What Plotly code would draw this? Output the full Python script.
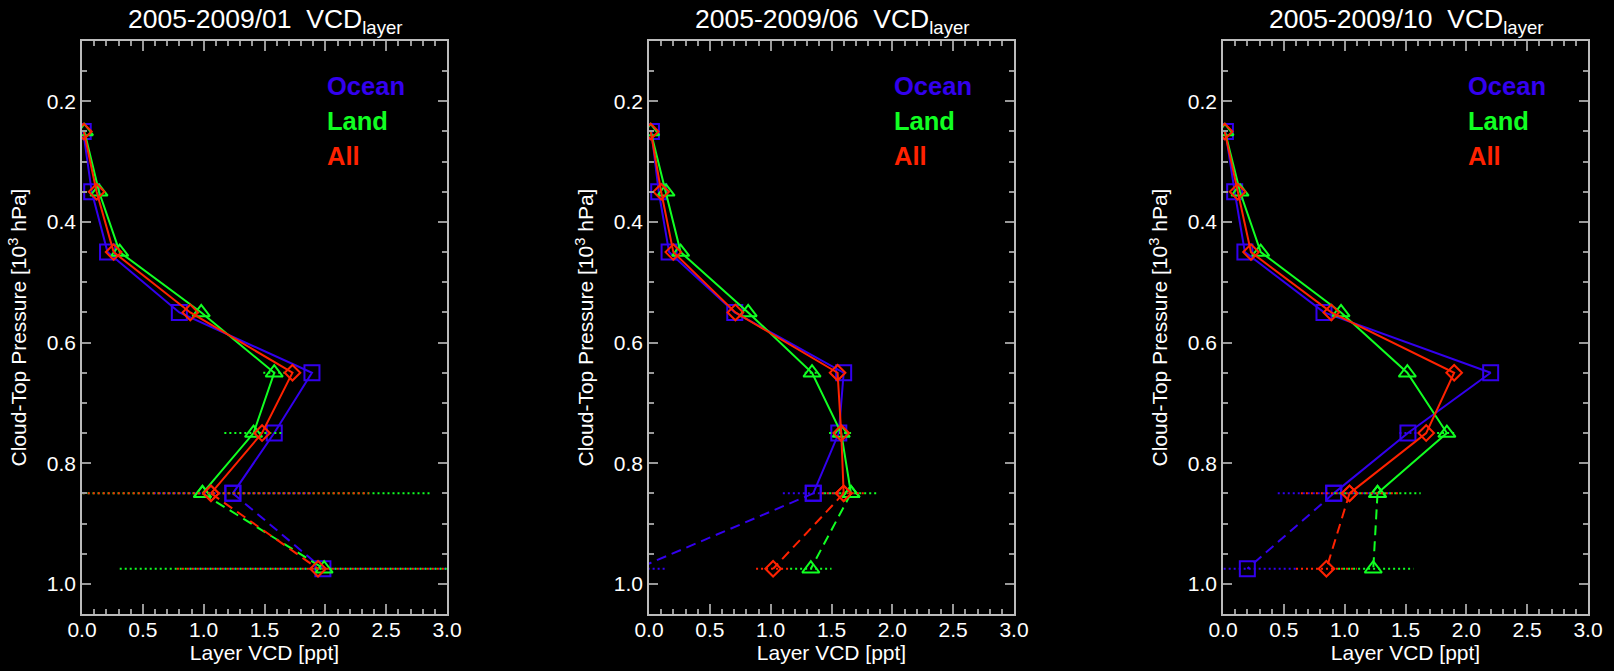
import plotly.graph_objects as go

# ---------------- data ----------------
pressure = [0.25, 0.35, 0.45, 0.55, 0.65, 0.75, 0.85, 0.975]
titles = ["2005-2009/01", "2005-2009/06", "2005-2009/10"]
series_names = ["Ocean", "Land", "All"]

# Panel 1 (January)
ocean_01 = [0.01, 0.08, 0.21, 0.80, 1.89, 1.58, 1.24, 1.98]
land_01 = [0.02, 0.14, 0.31, 0.98, 1.58, 1.41, 0.99, 1.99]
all_01 = [0.015, 0.12, 0.26, 0.89, 1.73, 1.48, 1.06, 1.94]
ocean_err_01 = [0, 0, 0, 0, 0, 0, 0.65, 1.1]
land_err_01 = [0, 0, 0, 0, 0.09, 0.24, 1.89, 1.68]
all_err_01 = [0, 0, 0, 0, 0, 0, 1.30, 1.16]

# Panel 2 (June)
ocean_06 = [0.02, 0.08, 0.165, 0.705, 1.60, 1.56, 1.35, -0.10]
land_06 = [0.014, 0.14, 0.26, 0.815, 1.34, 1.58, 1.66, 1.33]
all_06 = [0.014, 0.10, 0.20, 0.71, 1.55, 1.58, 1.60, 1.02]
ocean_err_06 = [0, 0, 0, 0, 0, 0, 0.25, 0.24]
land_err_06 = [0, 0, 0, 0, 0.06, 0.10, 0.22, 0.17]
all_err_06 = [0, 0, 0, 0, 0, 0, 0.18, 0.14]

# Panel 3 (October)
ocean_10 = [0.02, 0.096, 0.18, 0.83, 2.20, 1.52, 0.91, 0.20]
land_10 = [0.016, 0.14, 0.31, 0.97, 1.515, 1.84, 1.27, 1.235]
all_10 = [0.014, 0.12, 0.23, 0.89, 1.90, 1.67, 1.04, 0.85]
ocean_err_10 = [0, 0, 0, 0, 0, 0.07, 0.46, 0.40]
land_err_10 = [0, 0, 0, 0, 0, 0.08, 0.355, 0.33]
all_err_10 = [0, 0, 0, 0, 0, 0, 0.40, 0.25]

panels = [
    [(ocean_01, ocean_err_01), (land_01, land_err_01), (all_01, all_err_01)],
    [(ocean_06, ocean_err_06), (land_06, land_err_06), (all_06, all_err_06)],
    [(ocean_10, ocean_err_10), (land_10, land_err_10), (all_10, all_err_10)],
]

# ---------------- style ----------------
colors = ["#3300ee", "#11ff22", "#ff2200"]
symbols = ["square-open", "triangle-up-open", "diamond-open"]
msizes = [15, 15, 12]
legend_y = [0.175, 0.233, 0.291]
W, H = 1614, 671
x_domains = [(82 / W, 447 / W), (649 / W, 1014 / W), (1223 / W, 1588 / W)]
y_domain = (1 - 614 / H, 1 - 41 / H)
FONT = "Liberation Sans, Arial, sans-serif"

fig = go.Figure()

for pi, panel in enumerate(panels):
    xa = "x" if pi == 0 else f"x{pi + 1}"
    ya = "y" if pi == 0 else f"y{pi + 1}"
    for si, (vals, errs) in enumerate(panel):
        c = colors[si]
        # dotted horizontal error bars
        ex, ey = [], []
        for v, e, p in zip(vals, errs, pressure):
            if e > 0:
                ex += [v - e, v + e, None]
                ey += [p, p, None]
        if ex:
            fig.add_trace(go.Scatter(x=ex, y=ey, mode="lines", xaxis=xa, yaxis=ya,
                                     line=dict(color=c, width=2, dash="2px,3px"),
                                     showlegend=False, hoverinfo="skip", cliponaxis=True))
        # solid part
        fig.add_trace(go.Scatter(x=vals[:7], y=pressure[:7], mode="lines+markers",
                                 xaxis=xa, yaxis=ya, name=series_names[si],
                                 line=dict(color=c, width=2),
                                 marker=dict(symbol=symbols[si], size=msizes[si],
                                             color=c, line=dict(color=c, width=2)),
                                 showlegend=False, cliponaxis=True))
        # dashed part
        fig.add_trace(go.Scatter(x=vals[6:], y=pressure[6:], mode="lines+markers",
                                 xaxis=xa, yaxis=ya,
                                 line=dict(color=c, width=2, dash="10px,6px"),
                                 marker=dict(symbol=symbols[si], size=msizes[si],
                                             color=c, line=dict(color=c, width=2)),
                                 showlegend=False, cliponaxis=True))
        # legend text
        fig.add_annotation(x=2.0, y=legend_y[si], xref=xa, yref=ya,
                           text=f"<b>{series_names[si]}</b>", showarrow=False,
                           xanchor="left", yanchor="middle",
                           font=dict(family=FONT, size=25.5, color=c))
    # panel title
    d = x_domains[pi]
    fig.add_annotation(x=(d[0] + d[1]) / 2, y=1 - 21 / H, xref="paper", yref="paper",
                       text=f"{titles[pi]}&nbsp;&nbsp;VCD<sub>layer</sub>", showarrow=False,
                       xanchor="center", yanchor="middle",
                       font=dict(family=FONT, size=26.5, color="white"))

axis_common = dict(showgrid=False, zeroline=False, showline=True, linecolor="#bbbbbb",
                   linewidth=1.5, mirror="allticks", ticks="inside", tickcolor="#999999",
                   tickwidth=1.5, color="white", automargin=False,
                   tickfont=dict(family=FONT, size=21, color="white"))

for pi in range(3):
    sx = "" if pi == 0 else str(pi + 1)
    fig.update_layout(**{
        f"xaxis{sx}": dict(axis_common, domain=list(x_domains[pi]), range=[0, 3],
                           tick0=0, dtick=0.5, tickformat=".1f", ticklen=10,
                           anchor=f"y{sx}", ticklabelstandoff=-4,
                           minor=dict(dtick=0.1, ticklen=5, ticks="inside",
                                      tickcolor="#999999", tickwidth=1.5),
                           title=dict(text="Layer VCD [ppt]", standoff=2,
                                      font=dict(family=FONT, size=21, color="white"))),
        f"yaxis{sx}": dict(axis_common, domain=list(y_domain), range=[1.05, 0.1],
                           tick0=0, dtick=0.2, tickformat=".1f", ticklen=9,
                           anchor=f"x{sx}",
                           minor=dict(dtick=0.05, ticklen=5, ticks="inside",
                                      tickcolor="#999999", tickwidth=1.5),
                           title=dict(text="Cloud-Top Pressure [10<sup>3</sup> hPa]", standoff=14,
                                      font=dict(family=FONT, size=21, color="white"))),
    })

fig.update_layout(width=W, height=H, margin=dict(l=0, r=0, t=0, b=0, autoexpand=False),
                  paper_bgcolor="black", plot_bgcolor="black", showlegend=False)

fig.write_html("out.html")
